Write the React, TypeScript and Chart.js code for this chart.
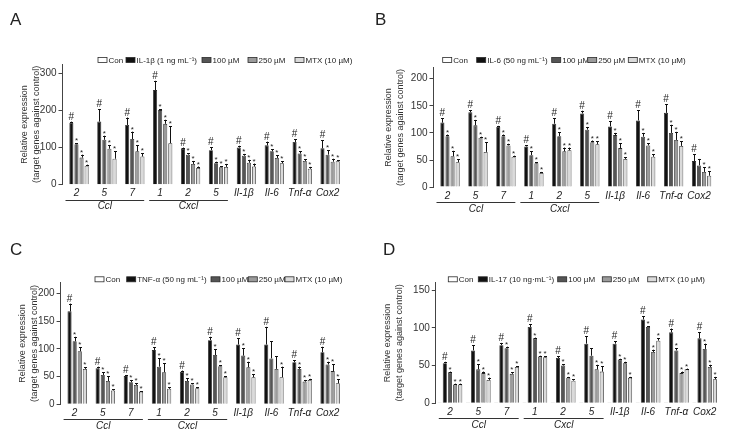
import React, { useEffect, useRef } from 'react';
import { Chart, registerables } from 'chart.js';
Chart.register(...registerables);

const FONT = "'Liberation Sans', Arial, sans-serif";

// ---------- shared categories ----------
const categories = ['2', '5', '7', '1', '2', '5', 'Il-1β', 'Il-6', 'Tnf-α', 'Cox2'];
const groupLabels = ['Ccl', 'Cxcl'];
const conValues = [1, 1, 1, 1, 1, 1, 1, 1, 1, 1];
const doseLabels = ['100 µM', '250 µM', 'MTX (10 µM)'];

// ---------- Panel A: IL-1β ----------
const aStimLabel = 'IL-1β (1 ng mL⁻¹)';
const aTicks = [0, 100, 200, 300];
const aStim = [167, 170, 161, 255, 98, 93, 100, 106, 115, 98];
const aStimErr = [3, 33, 20, 25, 2, 8, 5, 10, 8, 22];
const a100 = [109, 121, 123, 201, 81, 58, 78, 90, 84, 81];
const a100Err = [3, 11, 20, 3, 4, 4, 5, 6, 6, 12];
const a250 = [73, 97, 90, 164, 56, 47, 59, 72, 64, 62];
const a250Err = [8, 10, 17, 11, 8, 3, 8, 7, 5, 8];
const aMtx = [51, 70, 76, 112, 45, 48, 49, 58, 43, 63];
const aMtxErr = [3, 20, 9, 46, 4, 8, 8, 5, 5, 3];

// ---------- Panel B: IL-6 ----------
const bStimLabel = 'IL-6 (50 ng mL⁻¹)';
const bTicks = [0, 50, 100, 150, 200];
const bStim = [119, 138, 111, 75, 117, 136, 112, 123, 137, 48];
const bStimErr = [8, 4, 2, 2, 10, 5, 10, 19, 16, 13];
const b100 = [94, 114, 94, 59, 94, 106, 96, 93, 100, 40];
const b100Err = [3, 10, 3, 7, 7, 5, 4, 7, 15, 12];
const b250 = [57, 91, 77, 44, 66, 83, 72, 77, 87, 28];
const b250Err = [10, 2, 3, 2, 7, 3, 9, 4, 15, 9];
const bMtx = [46, 65, 56, 26, 68, 79, 52, 56, 76, 21];
const bMtxErr = [5, 18, 2, 2, 5, 6, 3, 5, 9, 8];

// ---------- Panel C: TNF-α ----------
const cStimLabel = 'TNF-α (50 ng mL⁻¹)';
const cTicks = [0, 50, 100, 150, 200];
const cStim = [168, 65, 51, 98, 59, 116, 108, 108, 76, 94];
const cStimErr = [14, 3, 2, 5, 2, 6, 11, 32, 4, 10];
const c100 = [114, 53, 40, 68, 42, 89, 88, 83, 64, 72];
const c100Err = [8, 5, 4, 15, 5, 11, 13, 31, 4, 5];
const c250 = [96, 42, 35, 58, 36, 69, 67, 64, 41, 60];
const c250Err = [7, 9, 3, 16, 2, 2, 10, 23, 3, 12];
const cMtx = [64, 25, 23, 28, 29, 49, 49, 49, 44, 38];
const cMtxErr = [3, 2, 1, 3, 2, 2, 5, 19, 2, 7];

// ---------- Panel D: IL-17 ----------
const dStimLabel = 'IL-17 (10 ng·mL⁻¹)';
const dTicks = [0, 50, 100, 150];
const dStim = [53, 70, 77, 101, 60, 79, 79, 111, 94, 86];
const dStimErr = [2, 7, 3, 4, 2, 10, 3, 4, 5, 8];
const d100 = [41, 45, 73, 86, 50, 63, 58, 101, 70, 72];
const d100Err = [1, 7, 2, 1, 2, 10, 1, 1, 3, 7];
const d250 = [25, 40, 39, 62, 34, 45, 53, 68, 40, 48];
const d250Err = [1, 2, 2, 1, 1, 6, 2, 3, 2, 3];
const dMtx = [25, 31, 48, 61, 30, 42, 34, 83, 45, 32];
const dMtxErr = [1, 3, 1, 1, 2, 7, 1, 3, 1, 3];

const COLORS = ['#ffffff', '#111111', '#555555', '#9b9b9b', '#dadada'];
const BORDER = '#2a2a2a';

type PanelCfg = {
  letter: string;
  letterX: number;
  letterY: number;
  stimLabel: string;
  series: number[][];
  errors: number[][];
  ticks: number[];
  noStar: number[][];
  left: number;
  right: number;
  top: number;
  bottom: number;
  max: number;
  title1: number;
  legendY: number;
  legendX: number[];
  W: number;
  H: number;
};

const decorPlugin = {
  id: 'decor',
  afterDatasetsDraw(chart: any, _a: any, opts: any) {
    const cfg: PanelCfg = opts.cfg;
    const ctx = chart.ctx;
    const ys = chart.scales.y;
    ctx.save();
    chart.data.datasets.forEach((ds: any, di: number) => {
      if (di === 0) return;
      const meta = chart.getDatasetMeta(di);
      const errs = cfg.errors[di - 1];
      meta.data.forEach((bar: any, i: number) => {
        const v = ds.data[i];
        const yTop = ys.getPixelForValue(v + errs[i]);
        const yBar = ys.getPixelForValue(v);
        const x = Math.round(bar.x) + 0.5;
        ctx.strokeStyle = '#111';
        ctx.lineWidth = 1;
        ctx.beginPath();
        ctx.moveTo(x, yBar);
        ctx.lineTo(x, yTop);
        ctx.moveTo(x - 1.5, Math.round(yTop) + 0.5);
        ctx.lineTo(x + 1.5, Math.round(yTop) + 0.5);
        ctx.stroke();
        const skip = cfg.noStar.some((p) => p[0] === i && p[1] === di);
        if (skip) return;
        ctx.fillStyle = '#222';
        ctx.textAlign = 'center';
        ctx.textBaseline = 'alphabetic';
        if (di === 1) {
          ctx.font = `10px ${FONT}`;
          ctx.fillText('#', bar.x, yTop - 2);
        } else {
          ctx.font = `8px ${FONT}`;
          ctx.fillText('*', bar.x, yTop);
        }
      });
    });
    ctx.restore();
  },
  afterDraw(chart: any, _a: any, opts: any) {
    const cfg: PanelCfg = opts.cfg;
    const ctx = chart.ctx;
    const xs = chart.scales.x;
    ctx.save();
    // panel letter
    ctx.fillStyle = '#222';
    ctx.font = `17px ${FONT}`;
    ctx.textAlign = 'left';
    ctx.textBaseline = 'alphabetic';
    ctx.fillText(cfg.letter, cfg.letterX, cfg.letterY);
    // legend
    const names = ['Con', cfg.stimLabel, ...doseLabels];
    ctx.font = `8px ${FONT}`;
    ctx.textBaseline = 'middle';
    names.forEach((n, k) => {
      const bx = cfg.legendX[k];
      ctx.fillStyle = COLORS[k];
      ctx.fillRect(bx, cfg.legendY - 2.5, 9, 5);
      ctx.strokeStyle = BORDER;
      ctx.lineWidth = 0.8;
      ctx.strokeRect(bx, cfg.legendY - 2.5, 9, 5);
      ctx.fillStyle = '#222';
      ctx.fillText(n, bx + 10.5, cfg.legendY + 0.5);
    });
    // group underlines and labels
    const half = (xs.getPixelForValue(1) - xs.getPixelForValue(0)) / 2;
    const bottom = chart.chartArea.bottom;
    [[0, 2], [3, 5]].forEach((g, k) => {
      const x0 = xs.getPixelForValue(g[0]) - half + 3;
      const x1 = xs.getPixelForValue(g[1]) + half - 2;
      const ly = Math.round(bottom + 15) + 0.5;
      ctx.strokeStyle = '#333';
      ctx.lineWidth = 1;
      ctx.beginPath();
      ctx.moveTo(x0, ly);
      ctx.lineTo(x1, ly);
      ctx.stroke();
      ctx.fillStyle = '#222';
      ctx.font = `italic 10px ${FONT}`;
      ctx.textAlign = 'center';
      ctx.textBaseline = 'middle';
      ctx.fillText(groupLabels[k], (x0 + x1) / 2, bottom + 22);
    });
    ctx.restore();
  },
};

function makeConfig(cfg: PanelCfg): any {
  const names = ['Con', cfg.stimLabel, ...doseLabels];
  const all = [conValues, ...cfg.series];
  return {
    type: 'bar',
    data: {
      labels: categories,
      datasets: all.map((d, k) => ({
        label: names[k],
        data: d,
        backgroundColor: COLORS[k],
        borderColor: BORDER,
        borderWidth: 0.8,
      })),
    },
    options: {
      animation: false,
      responsive: false,
      devicePixelRatio: 1,
      layout: { padding: { top: cfg.top, right: cfg.W - cfg.right, left: 0, bottom: 0 } },
      datasets: { bar: { categoryPercentage: 0.91, barPercentage: 0.8 } },
      plugins: {
        legend: { display: false },
        tooltip: { enabled: false },
        decor: { cfg },
      },
      scales: {
        x: {
          grid: { display: false, drawTicks: false },
          border: { display: false },
          ticks: {
            font: { family: FONT, size: 10, style: 'italic' },
            color: '#222',
            padding: 3,
            maxRotation: 0,
            autoSkip: false,
          },
          afterFit: (s: any) => {
            s.height = cfg.H - cfg.bottom;
          },
        },
        y: {
          min: 0,
          max: cfg.max,
          ticks: {
            font: { family: FONT, size: 10 },
            color: '#333',
            padding: 2,
            autoSkip: false,
          },
          grid: { drawOnChartArea: false, tickLength: 4, color: '#444' },
          border: { color: '#444' },
          title: {
            display: true,
            text: ['Relative expression', '(target genes against control)'],
            font: { family: FONT, size: 9, lineHeight: 1.3 },
            color: '#333',
            padding: { top: cfg.title1 - 5.85, bottom: 0 },
          },
          afterFit: (s: any) => {
            s.width = cfg.left;
          },
          afterBuildTicks: (s: any) => {
            s.ticks = cfg.ticks.map((v) => ({ value: v }));
          },
        },
      },
    },
    plugins: [decorPlugin],
  };
}

const panels: PanelCfg[] = [
  {
    letter: 'A', letterX: 10, letterY: 25, stimLabel: aStimLabel,
    series: [aStim, a100, a250, aMtx], errors: [aStimErr, a100Err, a250Err, aMtxErr],
    ticks: aTicks, noStar: [],
    left: 62.5, right: 341.5, top: 64.1, bottom: 184.7, max: 325, title1: 25,
    legendY: 60, legendX: [98, 126, 202, 248, 295], W: 365, H: 218,
  },
  {
    letter: 'B', letterX: 10, letterY: 25, stimLabel: bStimLabel,
    series: [bStim, b100, b250, bMtx], errors: [bStimErr, b100Err, b250Err, bMtxErr],
    ticks: bTicks, noStar: [[9, 2]],
    left: 68.5, right: 348, top: 67.9, bottom: 187.1, max: 220, title1: 24,
    legendY: 60, legendX: [77.7, 111.7, 186.7, 222.7, 263.3], W: 365, H: 218,
  },
  {
    letter: 'C', letterX: 10, letterY: 37, stimLabel: cStimLabel,
    series: [cStim, c100, c250, cMtx], errors: [cStimErr, c100Err, c250Err, cMtxErr],
    ticks: cTicks, noStar: [[7, 2], [7, 3]],
    left: 60.6, right: 341.6, top: 64.6, bottom: 186.3, max: 220, title1: 23,
    legendY: 61.3, legendX: [95, 126.7, 211, 248.3, 285], W: 365, H: 217,
  },
  {
    letter: 'D', letterX: 18, letterY: 37, stimLabel: dStimLabel,
    series: [dStim, d100, d250, dMtx], errors: [dStimErr, d100Err, d250Err, dMtxErr],
    ticks: dTicks, noStar: [[5, 2]],
    left: 70.8, right: 353.8, top: 64.5, bottom: 185.3, max: 160, title1: 23,
    legendY: 61.3, legendX: [83.3, 113.3, 192.7, 237.3, 282.7], W: 365, H: 217,
  },
];

function Panel({ cfg, x, y }: { cfg: PanelCfg; x: number; y: number }) {
  const ref = useRef<HTMLCanvasElement | null>(null);
  useEffect(() => {
    if (!ref.current) return;
    const chart = new Chart(ref.current, makeConfig(cfg));
    return () => chart.destroy();
  }, [cfg]);
  return (
    <canvas
      ref={ref}
      width={cfg.W}
      height={cfg.H}
      style={{ position: 'absolute', left: x, top: y, width: cfg.W, height: cfg.H }}
    />
  );
}

export default function App() {
  useEffect(() => {
    document.body.style.margin = '0';
    document.body.style.background = '#ffffff';
  }, []);
  return (
    <div style={{ position: 'fixed', left: 0, top: 0, width: 730, height: 435, background: '#fff' }}>
      <Panel cfg={panels[0]} x={0} y={0} />
      <Panel cfg={panels[1]} x={365} y={0} />
      <Panel cfg={panels[2]} x={0} y={218} />
      <Panel cfg={panels[3]} x={365} y={218} />
    </div>
  );
}
